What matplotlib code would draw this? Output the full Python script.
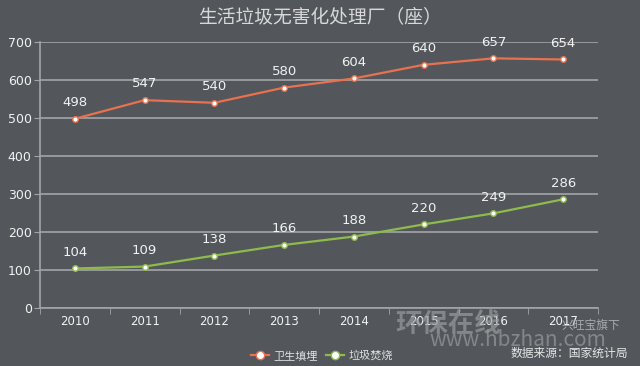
import matplotlib
matplotlib.use("Agg")
import matplotlib.pyplot as plt
from matplotlib.lines import Line2D

plt.rcParams['font.family'] = ['Noto Sans CJK SC', 'DejaVu Sans']

years = ["2010", "2011", "2012", "2013", "2014", "2015", "2016", "2017"]
landfill = [498, 547, 540, 580, 604, 640, 657, 654]
incineration = [104, 109, 138, 166, 188, 220, 249, 286]
series_names = ["卫生填埋", "垃圾焚烧"]
title = "生活垃圾无害化处理厂（座）"
source = "数据来源：国家统计局"

bg = "#53575b"
grid_c = "#a3a5a7"
txt = "#f2f2f2"
c_land = "#e8714f"
c_inc = "#8fbb4c"

fig = plt.figure(figsize=(6.4, 3.66), dpi=100, facecolor=bg)
ax = fig.add_axes([40/640, 1-308/366, 558/640, 266/366], facecolor=bg)

x = list(range(len(years)))
for vals, col in [(landfill, c_land), (incineration, c_inc)]:
    ax.plot(x, vals, color=col, lw=1.6, marker='o', ms=4, mfc='white', mec=col, mew=1.0, zorder=3)
    for xi, v in zip(x, vals):
        ax.annotate(str(v), (xi, v), xytext=(0, 7), textcoords='offset points',
                    ha='center', va='bottom', color=txt, fontsize=9.5, family=['DejaVu Sans'])

ax.set_xlim(-0.5, len(years) - 0.5)
ax.set_ylim(0, 700)
ax.set_yticks(range(0, 701, 100))
ax.yaxis.grid(True, color=grid_c, lw=1.2)
ax.set_axisbelow(True)
ax.set_xticks(x)
ax.set_xticklabels(years)
ax.set_xticks([i + 0.5 for i in range(-1, len(years))], minor=True)
ax.tick_params(axis='x', which='major', length=0, colors=txt, labelsize=8.5, pad=5)
ax.tick_params(axis='x', which='minor', length=4, color=grid_c, direction='out')
ax.tick_params(axis='y', length=4, color=grid_c, colors=txt, labelsize=9, pad=2)
for lab in ax.get_xticklabels() + ax.get_yticklabels():
    lab.set_family(['DejaVu Sans'])
for s in ['top', 'right']:
    ax.spines[s].set_visible(False)
ax.spines['left'].set_color(grid_c)
ax.spines['bottom'].set_color(grid_c)
ax.spines['left'].set_linewidth(1.2)
ax.spines['bottom'].set_linewidth(1.2)

fig.text(320/640, 1-17/366, title, ha='center', va='center', color='#d8d8d8', fontsize=13.5)

handles = [Line2D([0], [0], color=c, lw=1.6, marker='o', ms=6, mfc='white', mec=c)
           for c in (c_land, c_inc)]
fig.legend(handles, series_names, loc='center', bbox_to_anchor=(322/640, 1-356/366), ncol=2,
           frameon=False, fontsize=8, labelcolor='#e0e0e0', handlelength=1.6,
           columnspacing=0.8, handletextpad=0.4)

# watermark
fig.text(448/640, 1-324/366, "环保在线", ha='center', va='center', color='#9a9c9e',
         fontsize=19, fontweight='bold', alpha=0.7)
fig.text(591/640, 1-325/366, "兴旺宝旗下", ha='center', va='center', color='#a8aaac', fontsize=8.5)
fig.text(518/640, 1-340/366, "www.hbzhan.com", ha='center', va='center', color='#9a9c9e',
         fontsize=15, alpha=0.7)
fig.text(628/640, 1-353/366, source, ha='right', va='center', color='#e6e6e6', fontsize=8.5)

fig.savefig("out.png", dpi=100, facecolor=bg)
